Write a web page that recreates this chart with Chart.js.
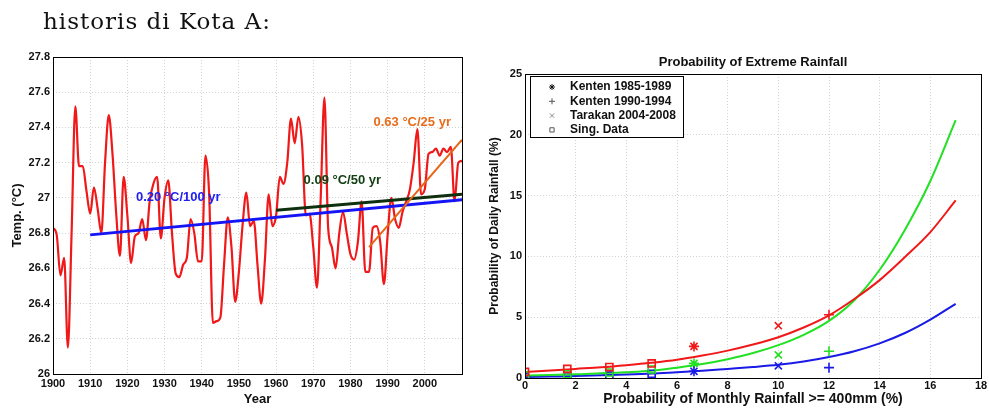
<!DOCTYPE html>
<html lang="id">
<head>
<meta charset="UTF-8">
<title>Suhu historis dan curah hujan ekstrem</title>
<script src="https://cdn.jsdelivr.net/npm/chart.js"></script>
<style>
    body { margin: 0; background: #fff; width: 989px; height: 410px; position: relative; overflow: hidden; }
    #kiri { position: absolute; left: 0; top: 0; }
    #kanan { position: absolute; left: 480px; top: 0; }
    #judul { position: absolute; left: 43px; top: 10px; z-index: 2; font-family: "DejaVu Serif", serif; font-size: 23px; letter-spacing: 1px; line-height: 1; color: #111; }
</style>
</head>
<body>
<canvas id="kiri" width="480" height="410"></canvas>
<canvas id="kanan" width="509" height="410"></canvas>
<div id="judul">historis di Kota A:</div>
<script>
    // suhu tahunan 1900 - 2010
    var tahunAwal = 1900;
    var suhu = [
        26.83, 26.79, 26.56, 26.66, 26.15, 26.80, 27.52, 27.18, 27.18, 27.04,
        26.91, 27.06, 26.94, 26.80, 27.20, 27.47, 27.25, 26.91, 26.67, 27.12,
        26.90, 26.63, 26.78, 26.80, 26.88, 26.76, 26.98, 27.08, 27.12, 26.77,
        27.00, 27.10, 26.80, 26.57, 26.55, 26.62, 26.66, 26.88, 26.80, 26.64,
        26.64, 27.24, 27.02, 26.29, 26.30, 26.32, 26.62, 26.89, 26.72, 26.41,
        26.58, 26.85, 27.03, 26.84, 26.87, 26.62, 26.40, 26.65, 27.02, 26.84,
        26.90, 27.12, 27.08, 27.20, 27.45, 27.31, 27.46, 27.30, 26.90, 26.91,
        26.72, 26.49, 27.00, 27.57, 26.83, 26.72, 26.60, 26.80, 26.92, 26.80,
        26.68, 26.65, 26.75, 26.98, 26.58, 26.58, 26.83, 26.84, 26.75, 26.51,
        26.79, 27.00, 26.88, 26.83, 26.92, 26.98, 27.05, 27.20, 27.39, 27.02,
        27.05, 27.25, 27.26, 27.28, 27.24, 27.28, 27.26, 27.29, 26.98, 27.20,
        27.21
    ];
    var trenBiruX = [1910, 2010];
    var trenBiruY = [26.79, 26.99];
    var trenHijauX = [1960, 2010];
    var trenHijauY = [26.93, 27.02];
    var trenOranyeX = [1985, 2010];
    var trenOranyeY = [26.72, 27.33];
    var labelTren = ['0.20 °C/100 yr', '0.09 °C/50 yr', '0.63 °C/25 yr'];
    var tickSuhu = [26, 26.2, 26.4, 26.6, 26.8, 27, 27.2, 27.4, 27.6, 27.8];

    // probabilitas hujan ekstrem
    var probBulanan = [0, 1, 2, 3, 4, 5, 6, 7, 8, 9, 10, 11, 12, 13, 14, 15, 16, 17];
    var kurvaMerah = [0.5, 0.62, 0.75, 0.88, 1.05, 1.25, 1.5, 1.85, 2.25, 2.75, 3.35, 4.15, 5.15, 6.5, 8.05, 9.95, 12.0, 14.6];
    var kurvaHijau = [0.2, 0.25, 0.3, 0.4, 0.48, 0.6, 0.85, 1.15, 1.55, 2.05, 2.7, 3.55, 4.7, 6.4, 8.9, 12.2, 16.2, 21.2];
    var kurvaBiru = [0.08, 0.12, 0.16, 0.22, 0.28, 0.36, 0.48, 0.6, 0.75, 0.9, 1.08, 1.35, 1.72, 2.2, 2.85, 3.7, 4.8, 6.1];
    var kenten8589X = 6.67;
    var kenten8589 = [2.6, 1.2, 0.55];
    var kenten9094X = 12;
    var kenten9094 = [5.2, 2.2, 0.85];
    var tarakanX = 10;
    var tarakan = [4.3, 1.9, 1.0];
    var singX = [0, 1.67, 3.33, 5.0];
    var singMerah = [0.5, 0.75, 0.9, 1.2];
    var singHijau = [0.2, 0.3, 0.45, 0.7];
    var singBiru = [0.08, 0.15, 0.2, 0.35];
    var namaLegenda = ['Kenten 1985-1989', 'Kenten 1990-1994', 'Tarakan 2004-2008', 'Sing. Data'];

    var MERAH = '#f01818';
    var HIJAU = '#22e022';
    var BIRU = '#1a1ae6';
    var HURUF = '"Liberation Sans", Arial, sans-serif';

    Chart.defaults.font.family = HURUF;
    Chart.defaults.font.size = 11;
    Chart.defaults.font.weight = 'bold';
    Chart.defaults.color = '#111';

    function pasangkan(xs, ys) {
        return xs.map(function (x, i) { return { x: x, y: ys[i] }; });
    }

    var gridAbu = { color: '#d4d4d4', drawTicks: false };
    var garisPutus = { display: false, dash: [1, 2] };

    // kotak hitam di sekeliling area plot + judul sumbu
    function kotak(j) {
        return {
            id: 'kotak',
            afterDraw: function (chart) {
                var a = chart.chartArea;
                var ctx = chart.ctx;
                ctx.save();
                ctx.strokeStyle = '#000';
                ctx.lineWidth = 1;
                ctx.strokeRect(Math.round(a.left) + 0.5, Math.round(a.top) + 0.5,
                    Math.round(a.right - a.left), Math.round(a.bottom - a.top));
                ctx.fillStyle = '#111';
                ctx.textAlign = 'center';
                ctx.textBaseline = 'middle';
                var tengahX = (a.left + a.right) / 2;
                ctx.font = 'bold ' + j.ukuranX + 'px ' + HURUF;
                ctx.fillText(j.x, tengahX, 399);
                if (j.atas) {
                    ctx.font = 'bold 13px ' + HURUF;
                    ctx.fillText(j.atas, tengahX, 62);
                }
                ctx.font = 'bold ' + j.ukuranY + 'px ' + HURUF;
                ctx.translate(j.posY, (a.top + a.bottom) / 2);
                ctx.rotate(-Math.PI / 2);
                ctx.fillText(j.y, 0, 0);
                ctx.restore();
            }
        };
    }

    var teksTren = {
        id: 'teksTren',
        afterDatasetsDraw: function (chart) {
            var sx = chart.scales.x, sy = chart.scales.y;
            var ctx = chart.ctx;
            var posisi = [[1922.3, 27.0, '#2020f0'], [1967.4, 27.1, '#124012'], [1986.2, 27.43, '#e86c1c']];
            ctx.save();
            ctx.font = 'bold 13px ' + HURUF;
            ctx.textBaseline = 'middle';
            posisi.forEach(function (p, i) {
                ctx.fillStyle = p[2];
                ctx.fillText(labelTren[i], sx.getPixelForValue(p[0]), sy.getPixelForValue(p[1]));
            });
            ctx.restore();
        }
    };

    new Chart(document.getElementById('kiri'), {
        type: 'line',
        data: {
            datasets: [
                { data: suhu.map(function (t, i) { return { x: tahunAwal + i, y: t }; }),
                  borderColor: MERAH, borderWidth: 2.2, pointRadius: 0, cubicInterpolationMode: 'monotone', order: 4 },
                { data: pasangkan(trenBiruX, trenBiruY), borderColor: '#1414f5', borderWidth: 3, pointRadius: 0, order: 3 },
                { data: pasangkan(trenHijauX, trenHijauY), borderColor: '#0e300e', borderWidth: 3, pointRadius: 0, order: 2 },
                { data: pasangkan(trenOranyeX, trenOranyeY), borderColor: '#e8661a', borderWidth: 2, pointRadius: 0, order: 1 }
            ]
        },
        options: {
            responsive: false,
            animation: false,
            events: [],
            layout: { padding: { left: 0, top: 57, right: 18, bottom: 0 } },
            plugins: { legend: { display: false }, tooltip: { enabled: false } },
            scales: {
                x: {
                    type: 'linear', min: 1900, max: 2010,
                    ticks: { stepSize: 10, padding: 3, maxRotation: 0,
                        callback: function (v) { return v < 2010 ? String(v) : ''; } },
                    grid: gridAbu, border: garisPutus,
                    afterFit: function (s) { s.height = 36; }
                },
                y: {
                    min: 26, max: 27.8,
                    afterBuildTicks: function (s) { s.ticks = tickSuhu.map(function (v) { return { value: v }; }); },
                    ticks: { padding: 3, callback: function (v) { return String(Math.round(v * 10) / 10); } },
                    grid: gridAbu, border: garisPutus,
                    afterFit: function (s) { s.width = 53; }
                }
            }
        },
        plugins: [kotak({ x: 'Year', ukuranX: 13, y: 'Temp. (°C)', ukuranY: 13, posY: 17 }), teksTren]
    });

    // legenda di dalam area plot
    var legendaHujan = {
        id: 'legendaHujan',
        afterDraw: function (chart) {
            var a = chart.chartArea;
            var ctx = chart.ctx;
            var kiri = Math.round(a.left) + 5, atas = Math.round(a.top) + 2;
            var gaya = [['star', '#111'], ['cross', '#555'], ['crossRot', '#888'], ['rect', '#555']];
            ctx.save();
            ctx.fillStyle = '#fff';
            ctx.fillRect(kiri, atas, 153, 61);
            ctx.strokeStyle = '#000';
            ctx.lineWidth = 1;
            ctx.strokeRect(kiri + 0.5, atas + 0.5, 153, 61);
            ctx.font = 'bold 12px ' + HURUF;
            ctx.textBaseline = 'middle';
            gaya.forEach(function (g, i) {
                var y = atas + 11 + i * 14.3;
                ctx.strokeStyle = g[1];
                ctx.fillStyle = 'rgba(0,0,0,0)';
                ctx.lineWidth = 1;
                Chart.helpers.drawPoint(ctx, { pointStyle: g[0], radius: 3, borderWidth: 1, rotation: 0 }, kiri + 22, y);
                ctx.fillStyle = '#111';
                ctx.fillText(namaLegenda[i], kiri + 40, y);
            });
            ctx.restore();
        }
    };

    function kurva(ys, warna) {
        return { data: pasangkan(probBulanan, ys), borderColor: warna, borderWidth: 2, pointRadius: 0,
                 showLine: true, cubicInterpolationMode: 'monotone' };
    }
    function penanda(xs, ys, gaya, warna) {
        return { data: pasangkan(xs, ys), showLine: false, pointStyle: gaya, pointRadius: 5,
                 pointBorderWidth: 1.6, borderColor: warna, pointBorderColor: warna, backgroundColor: 'rgba(0,0,0,0)' };
    }
    var warnaTiga = [MERAH, HIJAU, BIRU];

    new Chart(document.getElementById('kanan'), {
        type: 'scatter',
        data: {
            datasets: [
                penanda([kenten8589X, kenten8589X, kenten8589X], kenten8589, 'star', warnaTiga),
                penanda([kenten9094X, kenten9094X, kenten9094X], kenten9094, 'cross', warnaTiga),
                penanda([tarakanX, tarakanX, tarakanX], tarakan, 'crossRot', warnaTiga),
                penanda(singX, singMerah, 'rect', MERAH),
                penanda(singX, singHijau, 'rect', HIJAU),
                penanda(singX, singBiru, 'rect', BIRU),
                kurva(kurvaMerah, MERAH),
                kurva(kurvaHijau, HIJAU),
                kurva(kurvaBiru, BIRU)
            ]
        },
        options: {
            responsive: false,
            animation: false,
            events: [],
            layout: { padding: { left: 0, top: 74, right: 8, bottom: 0 } },
            plugins: { legend: { display: false }, tooltip: { enabled: false } },
            scales: {
                x: {
                    type: 'linear', min: 0, max: 18,
                    ticks: { stepSize: 2, padding: 1, maxRotation: 0 },
                    grid: gridAbu, border: garisPutus,
                    afterFit: function (s) { s.height = 32; }
                },
                y: {
                    min: 0, max: 25,
                    ticks: { stepSize: 5, padding: 3 },
                    grid: gridAbu, border: garisPutus,
                    afterFit: function (s) { s.width = 45; }
                }
            }
        },
        plugins: [kotak({ x: 'Probability of Monthly Rainfall >= 400mm (%)', ukuranX: 14,
            y: 'Probability of Daily Rainfall (%)', ukuranY: 12, posY: 15,
            atas: 'Probability of Extreme Rainfall' }), legendaHujan]
    });
</script>
</body>
</html>
